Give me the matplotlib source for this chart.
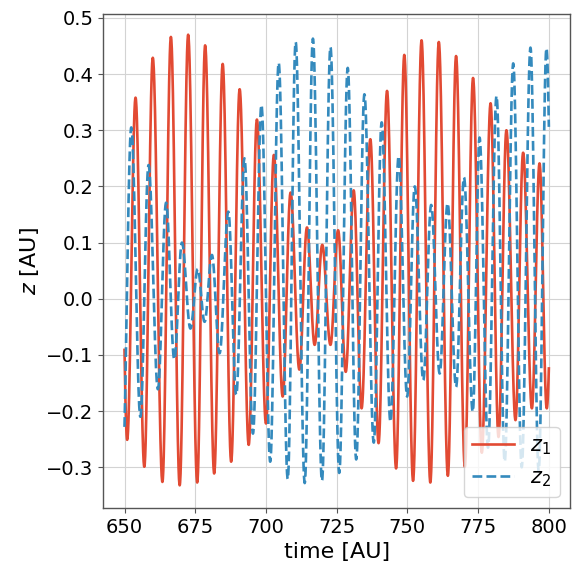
import numpy as np
import matplotlib
matplotlib.use("Agg")
import matplotlib.pyplot as plt

# ---- data: extrema (time, value) of each series ----
z1_t = [650.0, 650.95, 653.9, 657.0, 660.0, 663.4, 666.4, 669.5, 672.5, 675.7,
        678.5, 681.7, 684.7, 687.7, 690.7, 693.9, 696.8, 700.0, 702.8, 705.9,
        708.7, 711.8, 714.5, 717.2, 719.9, 722.8, 725.5, 728.2, 731.0, 733.8,
        736.9, 739.8, 742.8, 746.0, 748.9, 752.0, 755.0, 758.1, 761.1, 764.3,
        767.2, 770.3, 773.2, 776.3, 779.4, 782.2, 785.0, 788.2, 790.9, 794.0,
        796.7, 799.25, 800.0]
z1_v = [-0.091, -0.251, 0.358, -0.299, 0.429, -0.326, 0.466, -0.332, 0.470, -0.327,
        0.451, -0.311, 0.418, -0.290, 0.373, -0.260, 0.319, -0.222, 0.256, -0.174,
        0.189, -0.126, 0.127, -0.082, 0.096, -0.082, 0.122, -0.130, 0.193, -0.195,
        0.284, -0.257, 0.370, -0.302, 0.434, -0.324, 0.460, -0.327, 0.457, -0.315,
        0.432, -0.299, 0.393, -0.274, 0.348, -0.246, 0.300, -0.216, 0.260, -0.195,
        0.241, -0.195, -0.124]

z2_t = [650.0, 652.4, 655.6, 658.5, 661.8, 664.7, 667.6, 670.3, 673.3, 675.9,
        678.3, 680.9, 683.6, 686.7, 689.5, 692.4, 695.4, 698.4, 701.5, 704.5,
        707.7, 710.5, 713.7, 716.6, 719.8, 722.8, 725.9, 728.9, 731.9, 734.8,
        738.1, 740.9, 744.0, 746.9, 749.9, 752.6, 755.6, 758.4, 761.4, 764.2,
        767.2, 770.0, 773.1, 775.5, 778.5, 781.5, 784.4, 787.4, 790.4, 793.5,
        796.4, 799.15, 800.0]
z2_v = [-0.228, 0.305, -0.210, 0.238, -0.161, 0.171, -0.108, 0.100, -0.053, 0.053,
        -0.041, 0.078, -0.097, 0.155, -0.171, 0.250, -0.240, 0.345, -0.290, 0.420,
        -0.321, 0.457, -0.328, 0.463, -0.324, 0.448, -0.310, 0.411, -0.286, 0.364,
        -0.256, 0.314, -0.219, 0.254, -0.174, 0.200, -0.145, 0.167, -0.133, 0.170,
        -0.157, 0.216, -0.201, 0.287, -0.265, 0.361, -0.290, 0.419, -0.300, 0.447,
        -0.307, 0.446, 0.306]

labels = [r"$z_1$", r"$z_2$"]
xticks = [650, 675, 700, 725, 750, 775, 800]
yticks = [-0.3, -0.2, -0.1, 0.0, 0.1, 0.2, 0.3, 0.4, 0.5]


def smooth(tk, vk, n=40):
    """Draw a smooth line through the extrema (half-cosine between them)."""
    tk = np.asarray(tk, float)
    vk = np.asarray(vk, float)
    T, V = [], []
    m = len(tk)
    for i in range(m - 1):
        t0, t1, v0, v1 = tk[i], tk[i + 1], vk[i], vk[i + 1]
        t = np.linspace(t0, t1, n)
        if i == 0:
            w = np.pi / (tk[2] - tk[1])
            d = 1 - np.cos(w * (t1 - t0))
            v = v1 + (v0 - v1) * (1 - np.cos(w * (t1 - t))) / d
        elif i == m - 2:
            w = np.pi / (tk[m - 2] - tk[m - 3])
            d = 1 - np.cos(w * (t1 - t0))
            v = v0 + (v1 - v0) * (1 - np.cos(w * (t - t0))) / d
        else:
            u = (t - t0) / (t1 - t0)
            v = v0 + (v1 - v0) * (1 - np.cos(np.pi * u)) / 2
        if i > 0:
            t, v = t[1:], v[1:]
        T.append(t)
        V.append(v)
    return np.concatenate(T), np.concatenate(V)


fig = plt.figure(figsize=(5.77, 5.68), dpi=100)
ax = fig.add_axes([0.179, 0.106, 0.809, 0.8685])

t1, v1 = smooth(z1_t, z1_v)
t2, v2 = smooth(z2_t, z2_v)
ax.plot(t1, v1, color="#E24A33", lw=1.9, label=labels[0])
ax.plot(t2, v2, color="#348ABD", lw=1.9, ls="--", label=labels[1])

ax.set_xlim(642.5, 807.5)
ax.set_ylim(-0.372, 0.506)
ax.set_xticks(xticks)
ax.set_yticks(yticks)
ax.tick_params(labelsize=14, color="#555555")
ax.grid(True, color="#d3d3d3", lw=0.8)
ax.set_axisbelow(True)
for s in ax.spines.values():
    s.set_color("#555555")
    s.set_linewidth(1.0)

ax.set_xlabel("time [AU]", fontsize=16)
ax.set_ylabel(r"$z$ [AU]", fontsize=16)
ax.legend(loc="lower right", fontsize=15)

fig.savefig("out.png", dpi=100)
